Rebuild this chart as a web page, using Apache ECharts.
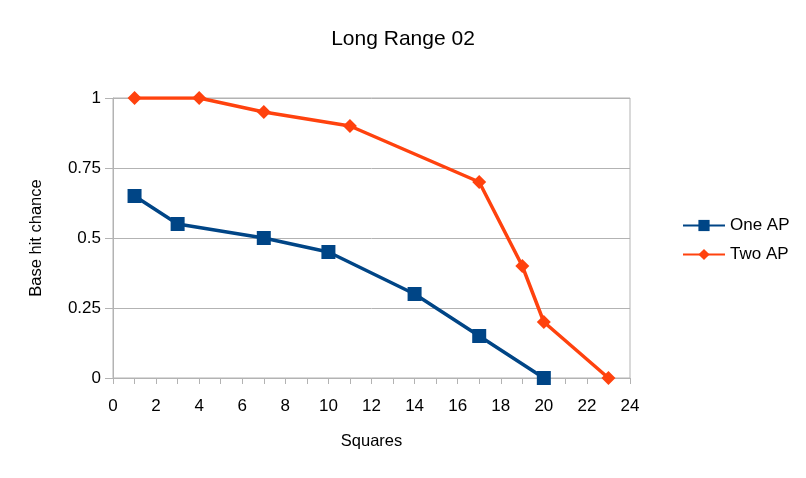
<!DOCTYPE html>
<html>
<head>
<meta charset="utf-8">
<script src="https://cdn.jsdelivr.net/npm/echarts@6/dist/echarts.min.js"></script>
<style>html,body{margin:0;padding:0;background:#fff;}#c{width:806px;height:478px;}</style>
</head>
<body>
<div id="c"></div>
<script>
const oneX = [1, 3, 7, 10, 14, 17, 20];
const oneY = [0.65, 0.55, 0.5, 0.45, 0.3, 0.15, 0];
const twoX = [1, 4, 7, 11, 17, 19, 20, 23];
const twoY = [1, 1, 0.95, 0.9, 0.7, 0.4, 0.2, 0];
const seriesNames = ['One AP', 'Two AP'];
const zip = (xs, ys) => xs.map((x, i) => [x, ys[i]]);
const font = 'Liberation Sans, Arial, sans-serif';
const chart = echarts.init(document.getElementById('c'));
chart.setOption({
  backgroundColor: '#fff',
  animation: false,
  title: { text: 'Long Range 02', left: 'center', top: 24, textStyle: { fontFamily: font, fontSize: 21, fontWeight: 'normal', color: '#000' } },
  legend: {
    orient: 'vertical', left: 677, top: 212, itemWidth: 42, itemHeight: 14, itemGap: 12,
    textStyle: { fontFamily: font, fontSize: 17, color: '#000' },
    data: seriesNames
  },
  grid: { left: 113, right: 176, top: 98, bottom: 100, show: true, borderColor: '#b3b3b3', borderWidth: 1 },
  xAxis: {
    type: 'value', min: 0, max: 24, interval: 2,
    name: 'Squares', nameLocation: 'middle', nameGap: 55,
    nameTextStyle: { fontFamily: font, fontSize: 16.5, color: '#000' },
    axisLine: { lineStyle: { color: '#b3b3b3' } },
    axisTick: { show: true, length: 6, lineStyle: { color: '#b3b3b3' } },
    minorTick: { show: true, splitNumber: 2, length: 6, lineStyle: { color: '#b3b3b3' } },
    axisLabel: { fontFamily: font, fontSize: 17, color: '#000', margin: 20 },
    splitLine: { show: false }
  },
  yAxis: {
    type: 'value', min: 0, max: 1, interval: 0.25,
    name: 'Base hit chance', nameLocation: 'middle', nameGap: 68,
    nameTextStyle: { fontFamily: font, fontSize: 16.5, color: '#000' },
    axisLine: { show: true, lineStyle: { color: '#b3b3b3' } },
    axisTick: { show: true, length: 8, lineStyle: { color: '#b3b3b3' } },
    axisLabel: { fontFamily: font, fontSize: 17, color: '#000', margin: 12, formatter: v => String(v) },
    splitLine: { show: true, lineStyle: { color: '#b3b3b3' } }
  },
  series: [
    { name: seriesNames[0], type: 'line', data: zip(oneX, oneY), symbol: 'rect', symbolSize: 14,
      lineStyle: { width: 3.5, color: '#004586' }, itemStyle: { color: '#004586' } },
    { name: seriesNames[1], type: 'line', data: zip(twoX, twoY), symbol: 'diamond', symbolSize: 14,
      lineStyle: { width: 3.5, color: '#ff420e' }, itemStyle: { color: '#ff420e' } }
  ]
});
</script>
</body>
</html>
